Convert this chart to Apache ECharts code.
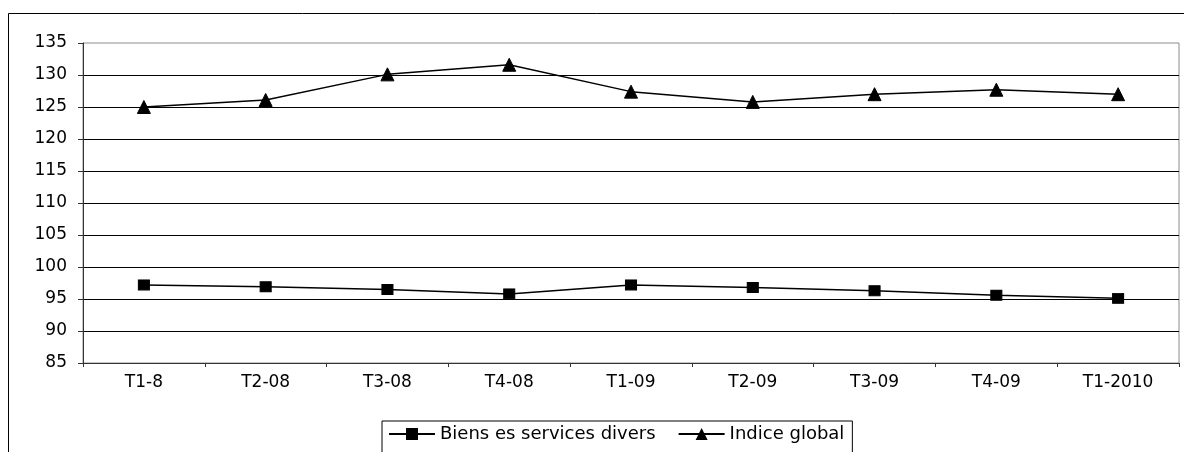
<!DOCTYPE html>
<html>
<head>
<meta charset="utf-8">
<script src="https://cdn.jsdelivr.net/npm/echarts@6/dist/echarts.min.js"></script>
<style>
  html, body { margin: 0; padding: 0; background: #fff; }
  #chart { width: 1184px; height: 452px; }
</style>
</head>
<body>
<div id="chart"></div>
<script>
// trimestres
const categories = ["T1-8", "T2-08", "T3-08", "T4-08", "T1-09", "T2-09", "T3-09", "T4-09", "T1-2010"];
// indices
const biensServices = [97.2, 96.9, 96.5, 95.8, 97.2, 96.8, 96.3, 95.6, 95.1];
const indiceGlobal = [125.0, 126.1, 130.1, 131.6, 127.4, 125.8, 127.0, 127.7, 127.0];
const yMin = 85;
const yMax = 135;
const yStep = 5;

const chart = echarts.init(document.getElementById("chart"));

const font = "'DejaVu Sans', sans-serif";

const option = {
  animation: false,
  backgroundColor: "#fff",
  textStyle: { fontFamily: font },
  graphic: [
    {
      // cadre extérieur du graphique
      type: "rect",
      shape: { x: 8.5, y: 13.5, width: 1300, height: 600 },
      style: { fill: "none", stroke: "#000", lineWidth: 1 },
      silent: true,
    },
  ],
  grid: {
    left: 83,
    right: 5,
    top: 43,
    bottom: 89,
    show: true,
    borderColor: "#8c8c8c",
    borderWidth: 1,
  },
  legend: {
    left: 382,
    top: 421,
    padding: [4, 8, 30, 6],
    borderColor: "#000",
    borderWidth: 1,
    itemWidth: 46,
    itemHeight: 15,
    itemGap: 22,
    textStyle: { color: "#000", fontSize: 18, fontFamily: font },
    data: ["Biens es services divers", "Indice global"],
  },
  xAxis: {
    type: "category",
    data: categories,
    boundaryGap: true,
    axisLine: { lineStyle: { color: "#333", width: 1 } },
    axisTick: { show: true, inside: false, length: 4, lineStyle: { color: "#333" } },
    axisLabel: { color: "#000", fontSize: 17, margin: 11, fontFamily: font },
    splitLine: { show: false },
  },
  yAxis: {
    type: "value",
    min: yMin,
    max: yMax,
    interval: yStep,
    axisLine: { show: true, lineStyle: { color: "#333", width: 1 } },
    axisTick: { show: true, length: 5, lineStyle: { color: "#333" } },
    axisLabel: { color: "#000", fontSize: 17, margin: 16, fontFamily: font },
    splitLine: { show: true, showMaxLine: false, lineStyle: { color: "#000", width: 1 } },
  },
  series: [
    {
      name: "Biens es services divers",
      type: "line",
      data: biensServices,
      symbol: "rect",
      symbolSize: [11, 10],
      lineStyle: { color: "#000", width: 1.5 },
      itemStyle: { color: "#000", borderColor: "#000" },
    },
    {
      name: "Indice global",
      type: "line",
      data: indiceGlobal,
      symbol: "triangle",
      symbolSize: 13,
      lineStyle: { color: "#000", width: 1.5 },
      itemStyle: { color: "#000", borderColor: "#000" },
    },
  ],
};

chart.setOption(option);
</script>
</body>
</html>
